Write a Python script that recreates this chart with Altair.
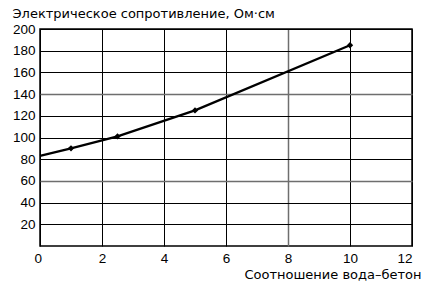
import altair as alt
import pandas as pd

# Water-to-concrete ratio vs. electrical resistivity
ratio = [0, 1, 2.5, 5, 10]
resistance = [83, 90, 101, 125, 185]
marked = [False, True, True, True, True]

df = pd.DataFrame({"ratio": ratio, "resistance": resistance, "marked": marked})

FONT = "Liberation Sans"
TITLE_FONT = "DejaVu Sans"
GRAY = "#6e6e6e"

x_enc = alt.X(
    "ratio:Q",
    scale=alt.Scale(domain=[0, 12], nice=False),
    axis=alt.Axis(
        values=[0, 2, 4, 6, 8, 10, 12],
        title="Соотношение вода–бетон",
        titleAngle=0,
        titleAlign="right",
        titleBaseline="alphabetic",
        titleX=381,
        titleY=32,
        titleFont=TITLE_FONT,
        titleFontSize=13,
        titleFontWeight="normal",
        titleColor="black",
        labelFont=FONT,
        labelFontSize=13.5,
        labelColor="black",
        labelPadding=5,
        labelOffset={"condition": {"test": "datum.value === 0", "value": -6}, "value": 0},
        ticks=False,
        domain=False,
        gridColor={"condition": {"test": "datum.value === 8", "value": GRAY}, "value": "black"},
        gridWidth={"condition": {"test": "datum.value === 8", "value": 1.5}, "value": 1},
        gridOpacity=1,
    ),
)

y_enc = alt.Y(
    "resistance:Q",
    scale=alt.Scale(domain=[0, 200], nice=False),
    axis=alt.Axis(
        values=[20, 40, 60, 80, 100, 120, 140, 160, 180, 200],
        title="Электрическое сопротивление, Ом·см",
        titleAngle=0,
        titleAlign="left",
        titleBaseline="alphabetic",
        titleX=-28,
        titleY=-12,
        titleFont=TITLE_FONT,
        titleFontSize=13,
        titleFontWeight="normal",
        titleColor="black",
        labelFont=FONT,
        labelFontSize=13.5,
        labelColor="black",
        labelPadding=5,
        ticks=False,
        domain=False,
        gridColor={"condition": {"test": "datum.value === 60 || datum.value === 140", "value": GRAY}, "value": "black"},
        gridWidth={"condition": {"test": "datum.value === 60 || datum.value === 140", "value": 1.5}, "value": 1},
        gridOpacity=1,
    ),
)

line = alt.Chart(df).mark_line(color="black", strokeWidth=2.3).encode(x=x_enc, y=y_enc)

points = (
    alt.Chart(df)
    .transform_filter("datum.marked")
    .mark_point(shape="diamond", filled=True, color="black", size=40, opacity=1)
    .encode(x=x_enc, y=y_enc)
)

chart = (
    alt.layer(line, points)
    .properties(
        width=372,
        height=217,
        padding={"left": 40, "top": 29, "right": 15, "bottom": 38},
        autosize=alt.AutoSizeParams(type="none"),
        background="white",
    )
    .configure_view(stroke="black", strokeWidth=1.5)
)

chart.save("out.html", embed_options={"renderer": "svg", "actions": False})
